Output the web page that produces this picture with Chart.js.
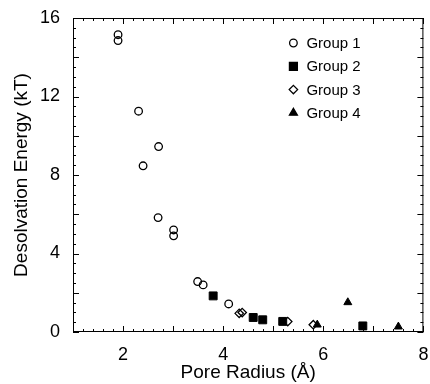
<!DOCTYPE html>
<html>
<head>
<meta charset="utf-8">
<script src="https://cdn.jsdelivr.net/npm/chart.js@4.4.1/dist/chart.umd.min.js"></script>
<style>
  html, body { margin: 0; padding: 0; background: #fff; }
  #wrap { width: 430px; height: 384px; }
</style>
</head>
<body>
<div id="wrap"><canvas id="poreChart"></canvas></div>
<script>
// values
var group1X = [1.90, 1.90, 2.31, 2.40, 2.71, 2.70, 3.01, 3.01, 3.49, 3.60, 4.11];
var group1Y = [15.15, 14.85, 11.25, 8.47, 9.45, 5.83, 5.20, 4.90, 2.57, 2.40, 1.43];
var group2X = [3.80, 4.60, 4.79, 5.19, 6.79];
var group2Y = [1.84, 0.74, 0.62, 0.54, 0.31];
var group3X = [4.32, 4.38, 5.29, 5.80];
var group3Y = [0.95, 0.99, 0.53, 0.37];
var group4X = [5.88, 6.49, 7.50];
var group4Y = [0.37, 1.51, 0.27];

var groupNames = ['Group 1', 'Group 2', 'Group 3', 'Group 4'];
var xTickValues = [2, 4, 6, 8];
var yTickValues = [0, 4, 8, 12, 16];

function toPoints(xs, ys) {
    return xs.map(function (x, i) { return { x: x, y: ys[i] }; });
}

var FONT = "'Liberation Sans', Arial, Helvetica, sans-serif";

// box round the plot with inward ticks on all four sides
var frameTicks = {
    id: 'frameTicks',
    afterDatasetsDraw: function (chart) {
        var ctx = chart.ctx, a = chart.chartArea;
        var xs = chart.scales.x, ys = chart.scales.y;
        ctx.save();
        ctx.strokeStyle = '#000';
        ctx.lineWidth = 1;
        ctx.strokeRect(a.left + 0.5, a.top + 0.5, a.right - a.left - 1, a.bottom - a.top - 1);
        ctx.beginPath();
        var v, px, len;
        for (var i = 10; i <= 80; i++) {
            v = i / 10;
            if (i % 2 !== 0) continue;
            px = Math.round(xs.getPixelForValue(v)) + 0.5;
            len = (i % 10 === 0) ? 6 : 3;
            ctx.moveTo(px, a.bottom); ctx.lineTo(px, a.bottom - len);
            ctx.moveTo(px, a.top); ctx.lineTo(px, a.top + len);
        }
        for (var j = 0; j <= 32; j++) {
            v = j / 2;
            px = Math.round(ys.getPixelForValue(v)) + 0.5;
            len = (j % 4 === 0) ? 6 : 3;
            ctx.moveTo(a.left, px); ctx.lineTo(a.left + len, px);
            ctx.moveTo(a.right, px); ctx.lineTo(a.right - len, px);
        }
        ctx.stroke();
        ctx.restore();
    }
};

function drawMarker(ctx, style, x, y, r, fill) {
    ctx.beginPath();
    if (style === 'circle') {
        ctx.arc(x, y, r, 0, Math.PI * 2);
    } else if (style === 'rect') {
        var s = r * Math.SQRT1_2;
        ctx.rect(x - s, y - s, 2 * s, 2 * s);
    } else if (style === 'rectRot') {
        ctx.moveTo(x, y - r); ctx.lineTo(x + r, y); ctx.lineTo(x, y + r); ctx.lineTo(x - r, y); ctx.closePath();
    } else if (style === 'triangle') {
        ctx.moveTo(x, y - r); ctx.lineTo(x + r * 0.866, y + r * 0.5); ctx.lineTo(x - r * 0.866, y + r * 0.5); ctx.closePath();
    }
    if (fill) { ctx.fillStyle = '#000'; ctx.fill(); }
    ctx.stroke();
}

// legend inside the top right of the plot
var innerLegend = {
    id: 'innerLegend',
    afterDraw: function (chart) {
        var ctx = chart.ctx, a = chart.chartArea;
        ctx.save();
        ctx.strokeStyle = '#000';
        ctx.lineWidth = 1.3;
        ctx.font = '15px ' + FONT;
        ctx.textBaseline = 'middle';
        ctx.fillStyle = '#000';
        chart.data.datasets.forEach(function (ds, i) {
            var mx = a.right - 130, my = a.top + 25 + i * 23.3;
            drawMarker(ctx, ds.pointStyle, mx, my, ds.pointRadius, ds.pointBackgroundColor === '#000');
            ctx.fillStyle = '#000';
            ctx.fillText(ds.label, mx + 13, my + 1);
        });
        ctx.restore();
    }
};

var ctx = document.getElementById('poreChart').getContext('2d');
var poreChart = new Chart(ctx, {
    type: 'scatter',
    data: {
        datasets: [{
            label: groupNames[0],
            data: toPoints(group1X, group1Y),
            pointStyle: 'circle',
            pointRadius: 3.8,
            pointBackgroundColor: 'rgba(0,0,0,0)',
            pointBorderColor: '#000',
            pointBorderWidth: 1.3,
            order: 0
        }, {
            label: groupNames[1],
            data: toPoints(group2X, group2Y),
            pointStyle: 'rect',
            pointRadius: 5.6,
            pointBackgroundColor: '#000',
            pointBorderColor: '#000',
            pointBorderWidth: 1,
            order: 0
        }, {
            label: groupNames[2],
            data: toPoints(group3X, group3Y),
            pointStyle: 'rectRot',
            pointRadius: 4.2,
            pointBackgroundColor: 'rgba(0,0,0,0)',
            pointBorderColor: '#000',
            pointBorderWidth: 1.3,
            order: 1
        }, {
            label: groupNames[3],
            data: toPoints(group4X, group4Y),
            pointStyle: 'triangle',
            pointRadius: 4.6,
            pointBackgroundColor: '#000',
            pointBorderColor: '#000',
            pointBorderWidth: 1,
            order: 0
        }]
    },
    options: {
        responsive: true,
        maintainAspectRatio: false,
        animation: false,
        layout: { padding: { top: 18, right: 5, left: 0, bottom: 0 } },
        plugins: {
            legend: { display: false },
            tooltip: { enabled: false }
        },
        scales: {
            x: {
                type: 'linear',
                min: 1,
                max: 8,
                grid: { display: false },
                border: { display: false },
                afterBuildTicks: function (s) {
                    s.ticks = xTickValues.map(function (v) { return { value: v }; });
                },
                afterFit: function (s) {
                    s.height = 52;
                    s.paddingLeft = 0;
                    s.paddingRight = 0;
                },
                ticks: {
                    autoSkip: false,
                    maxRotation: 0,
                    padding: 4,
                    color: '#000',
                    font: { family: FONT, size: 18 }
                },
                title: {
                    display: true,
                    text: 'Pore Radius (Å)',
                    color: '#000',
                    font: { family: FONT, size: 19 },
                    padding: { top: 0, bottom: 0 }
                }
            },
            y: {
                type: 'linear',
                min: 0,
                max: 16,
                grid: { display: false },
                border: { display: false },
                afterBuildTicks: function (s) {
                    s.ticks = yTickValues.map(function (v) { return { value: v }; });
                },
                afterFit: function (s) {
                    s.width = 73;
                    s.paddingTop = 0;
                    s.paddingBottom = 0;
                },
                ticks: {
                    autoSkip: false,
                    padding: 5,
                    color: '#000',
                    font: { family: FONT, size: 18 }
                },
                title: {
                    display: true,
                    text: 'Desolvation Energy (kT)',
                    color: '#000',
                    font: { family: FONT, size: 19 },
                    padding: { top: 10, bottom: 0 }
                }
            }
        }
    },
    plugins: [frameTicks, innerLegend]
});
</script>
</body>
</html>
